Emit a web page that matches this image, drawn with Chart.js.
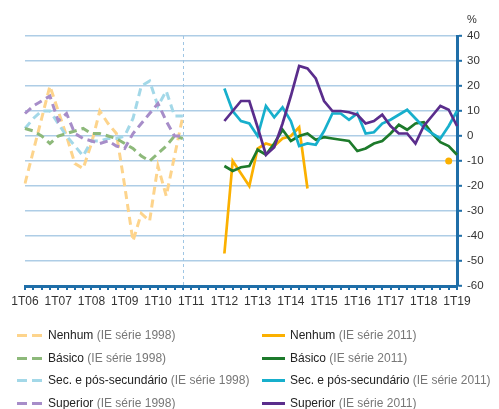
<!DOCTYPE html>
<html>
<head>
<meta charset="utf-8">
<script src="https://cdn.jsdelivr.net/npm/chart.js@4"></script>
<style>
  html, body { margin: 0; padding: 0; background: #fff; }
  #wrap { position: relative; width: 499px; height: 409px; font-family: "Liberation Sans", Arial, sans-serif; }
  canvas { position: absolute; left: 0; top: 0; }
  .lg { position: absolute; font-size: 12px; color: #222; white-space: nowrap; line-height: 14px; }
  .lg .g { color: #777; }
  .sym { position: absolute; height: 3px; }
</style>
</head>
<body>
<div id="wrap">
  <canvas id="c" width="499" height="409"></canvas>
  <div id="legend"></div>
</div>
<script>
// Quarter categories (x axis)
const quarters = [
  "1T06","2T06","3T06","4T06","1T07","2T07","3T07","4T07","1T08","2T08","3T08","4T08",
  "1T09","2T09","3T09","4T09","1T10","2T10","3T10","4T10","1T11","2T11","3T11","4T11",
  "1T12","2T12","3T12","4T12","1T13","2T13","3T13","4T13","1T14","2T14","3T14","4T14",
  "1T15","2T15","3T15","4T15","1T16","2T16","3T16","4T16","1T17","2T17","3T17","4T17",
  "1T18","2T18","3T18","4T18","1T19"
];
const yTicks = [40, 30, 20, 10, 0, -10, -20, -30, -40, -50, -60];

// IE série 1998: 1T06 .. 4T10
const nenhum1998   = [-19, -6, 7, 20, 10, 0, -11, -13, -3, 10, 5, 1, -20, -42, -31, -34, -12, -24, -8, 8];
const basico1998   = [3, 2, 0, -3, 0, 1, 2, 3, 1, 1, 0, -1, -3, -5, -8, -10, -7, -4, 0, -1];
const sec1998      = [3, 7, 10, 10, 5, 0, -4, -8, -2, -2, -1, -1, 0, 7, 20, 22, 12, 18, 8, 8];
const superior1998 = [9, 12, 14, 16, 6, 9, 1, -1, -2, -3, -2, -4, -5, 1, 5, 9, 13, 6, 0, 0];

// IE série 2011: 1T12 .. 1T19
const nenhum2011   = [-47, -10, -15, -20, -5, -3, -4, -1, 0, 3.5, -21,
                      null, null, null, null, null, null, null, null, null, null, null, null, null, null, null, null,
                      -10, null];
const basico2011   = [-12, -14, -12.5, -12, -5.5, -7.5, -3, 2.5, -2, 0, 1, -1.5, -0.5, -1, -1.5, -2, -6, -5, -3, -2, 1, 4.5, 2.5, 5, 5.5, 1, -2.5, -4, -7.5];
const sec2011      = [19, 10, 6, 5, 0, 12, 7.5, 11.5, 6, -4, -3, -3.5, 2, 9, 9, 6.5, 9, 1, 1.5, 5, 6.5, 8.5, 10.5, 7, 3.5, 1, -1, 4, 10];
const superior2011 = [6, 10, 14, 14, 3.5, -7.5, -4.5, 5, 16, 28, 27, 23, 14, 10, 10, 9.5, 8.5, 5, 6, 8.5, 4, 1, 1, -3, 4, 8, 12, 10.5, 4];

const start1998 = quarters.indexOf("1T06");
const start2011 = quarters.indexOf("1T12");
const breakLabel = "4T10";

function place(arr, start) {
  return quarters.map((q, i) => (i >= start && i - start < arr.length) ? arr[i - start] : null);
}

const C = {
  n98: '#fdd48c', b98: '#8db97a', s98: '#a3d8e8', p98: '#a78dc9',
  n11: '#fbb000', b11: '#1d7a2b', s11: '#17afcc', p11: '#5a2d8c',
  axis: '#1f6ea8', grid: '#aecde6', text: '#333333'
};

function isolatedRadius(ctx) {
  const d = ctx.dataset.data; const i = ctx.dataIndex;
  if (d[i] == null) return 0;
  const prev = i > 0 ? d[i - 1] : null, next = i < d.length - 1 ? d[i + 1] : null;
  return (prev == null && next == null) ? 3.5 : 0;
}

function ds(label, arr, start, color, dashed) {
  return {
    label, data: place(arr, start), borderColor: color, backgroundColor: color,
    borderWidth: dashed ? 3 : 2.7, borderDash: dashed ? [8, 5] : [],
    pointRadius: isolatedRadius, pointHoverRadius: 0, pointBorderWidth: 0,
    tension: 0, spanGaps: false, fill: false
  };
}

const datasets = [
  ds('Superior (IE série 2011)', superior2011, start2011, C.p11, false),
  ds('Sec. e pós-secundário (IE série 2011)', sec2011, start2011, C.s11, false),
  ds('Básico (IE série 2011)', basico2011, start2011, C.b11, false),
  ds('Nenhum (IE série 2011)', nenhum2011, start2011, C.n11, false),
  ds('Superior (IE série 1998)', superior1998, start1998, C.p98, true),
  ds('Básico (IE série 1998)', basico1998, start1998, C.b98, true),
  ds('Sec. e pós-secundário (IE série 1998)', sec1998, start1998, C.s98, true),
  ds('Nenhum (IE série 1998)', nenhum1998, start1998, C.n98, true)
];

const extras = {
  id: 'extras',
  beforeDatasetsDraw(chart) {
    const { ctx, chartArea, scales } = chart;
    const x = scales.x.getPixelForValue(quarters.indexOf(breakLabel));
    ctx.save();
    ctx.strokeStyle = '#9fc6e4';
    ctx.lineWidth = 1;
    ctx.setLineDash([3, 3]);
    ctx.beginPath();
    ctx.moveTo(Math.round(x) + 0.5, chartArea.top);
    ctx.lineTo(Math.round(x) + 0.5, chartArea.bottom);
    ctx.stroke();
    ctx.restore();
  },
  afterDraw(chart) {
    const { ctx, chartArea } = chart;
    ctx.save();
    ctx.fillStyle = C.text;
    ctx.font = '11px "Liberation Sans", Arial, sans-serif';
    ctx.textAlign = 'left';
    ctx.textBaseline = 'alphabetic';
    ctx.fillText('%', chartArea.right + 10, chartArea.top - 13);
    ctx.restore();
  }
};

new Chart(document.getElementById('c'), {
  type: 'line',
  data: { labels: quarters, datasets },
  options: {
    responsive: false, animation: false,
    layout: { padding: { left: 25, top: 36, right: 0, bottom: 0 } },
    plugins: { legend: { display: false }, tooltip: { enabled: false } },
    scales: {
      x: {
        type: 'category', offset: false,
        afterFit(s) { s.height = 123; },
        border: { display: true, color: C.axis, width: 3 },
        grid: { display: true, drawOnChartArea: false, drawTicks: true, tickLength: 4, color: C.axis, lineWidth: 2 },
        ticks: {
          autoSkip: false, maxRotation: 0, minRotation: 0, padding: 4, color: C.text,
          font: { family: '"Liberation Sans", Arial, sans-serif', size: 12 },
          callback(v, i) { const l = quarters[i]; return l.startsWith('1T') ? l : ''; }
        }
      },
      y: {
        position: 'right', min: -60, max: 40,
        afterFit(s) { s.width = 42; },
        afterBuildTicks(s) { s.ticks = yTicks.map(v => ({ value: v })); },
        border: { display: true, color: C.axis, width: 3 },
        grid: { color: C.grid, lineWidth: 1.6, drawTicks: true, tickLength: 5, tickColor: C.axis, tickWidth: 2 },
        ticks: {
          padding: 5, color: C.text,
          font: { family: '"Liberation Sans", Arial, sans-serif', size: 11.5 }
        }
      }
    }
  },
  plugins: [extras]
});

// HTML legend (two columns)
const legendItems = [
  { name: 'Nenhum', tail: '(IE série 1998)', color: C.n98, dashed: true, col: 0, row: 0 },
  { name: 'Básico', tail: '(IE série 1998)', color: C.b98, dashed: true, col: 0, row: 1 },
  { name: 'Sec. e pós-secundário', tail: '(IE série 1998)', color: C.s98, dashed: true, col: 0, row: 2 },
  { name: 'Superior', tail: '(IE série 1998)', color: C.p98, dashed: true, col: 0, row: 3 },
  { name: 'Nenhum', tail: '(IE série 2011)', color: C.n11, dashed: false, col: 1, row: 0 },
  { name: 'Básico', tail: '(IE série 2011)', color: C.b11, dashed: false, col: 1, row: 1 },
  { name: 'Sec. e pós-secundário', tail: '(IE série 2011)', color: C.s11, dashed: false, col: 1, row: 2 },
  { name: 'Superior', tail: '(IE série 2011)', color: C.p11, dashed: false, col: 1, row: 3 }
];
const lg = document.getElementById('legend');
const colX = [17, 262], textX = [48, 290], rowY = [335, 358, 380, 403];
legendItems.forEach(it => {
  const x0 = colX[it.col], yc = rowY[it.row];
  if (it.dashed) {
    [0, 15].forEach(off => {
      const s = document.createElement('div'); s.className = 'sym';
      s.style.left = (x0 + off) + 'px'; s.style.top = (yc - 1.5) + 'px'; s.style.width = '10px'; s.style.background = it.color;
      lg.appendChild(s);
    });
  } else {
    const s = document.createElement('div'); s.className = 'sym';
    s.style.left = x0 + 'px'; s.style.top = (yc - 1.5) + 'px'; s.style.width = '23px'; s.style.background = it.color;
    lg.appendChild(s);
  }
  const t = document.createElement('div'); t.className = 'lg';
  t.style.left = textX[it.col] + 'px'; t.style.top = (yc - 7) + 'px';
  t.innerHTML = it.name + ' <span class="g">' + it.tail + '</span>';
  lg.appendChild(t);
});
</script>
</body>
</html>
